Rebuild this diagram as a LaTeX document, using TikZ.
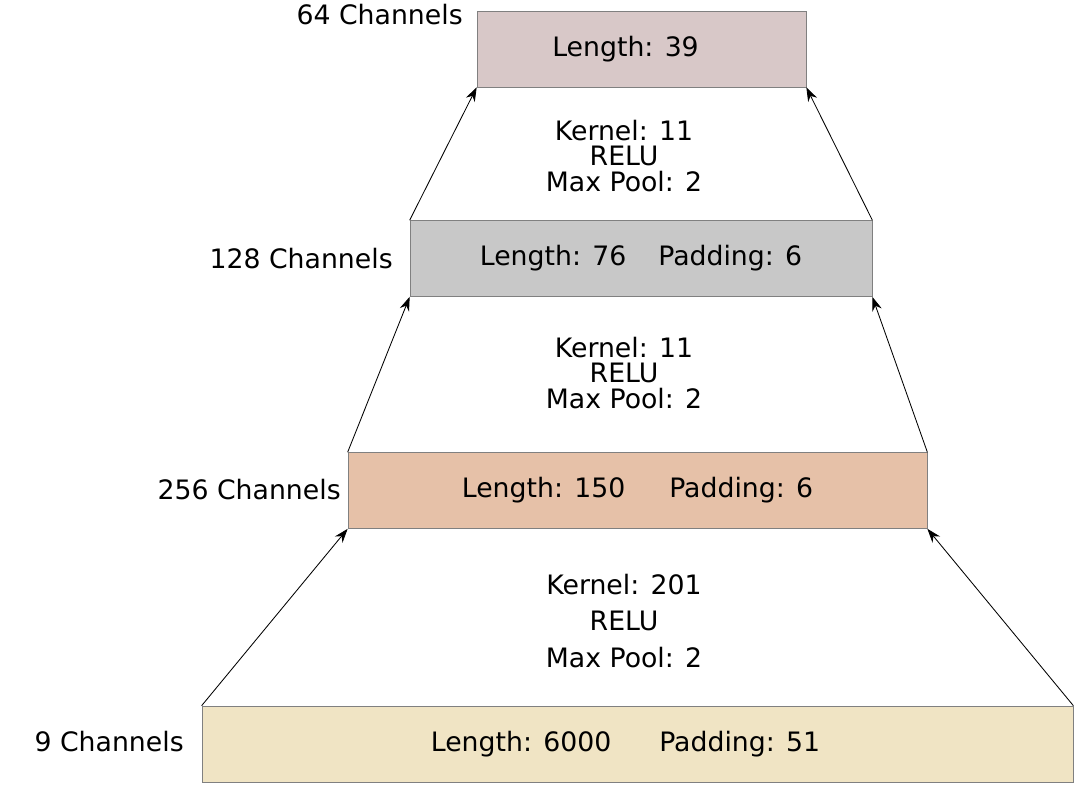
\documentclass[tikz,border=0pt]{standalone}
\usepackage{fontspec}
\setmainfont{DejaVu Sans}
\usetikzlibrary{arrows.meta, positioning}
\definecolor{cTop}{HTML}{D8C8C8}
\definecolor{cSecond}{HTML}{C8C8C8}
\definecolor{cThird}{HTML}{E6C1A8}
\definecolor{cBottom}{HTML}{F0E4C4}

\begin{document}
\begin{tikzpicture}[x=0.025cm, y=-0.025cm]
\tikzstyle{layer} = [rectangle, draw=gray, line width=0.4pt, minimum height=1.9cm, inner sep=0pt, font=\fontsize{19}{22}\selectfont]
\tikzstyle{chan} = [anchor=east, inner sep=0pt, font=\fontsize{19}{22}\selectfont]
\tikzstyle{op} = [align=center, font=\fontsize{19}{22}\selectfont]
\tikzstyle{up} = [-{Stealth[length=10pt, width=7pt]}, line width=0.6pt]
\useasboundingbox (0,0) rectangle (1075,784);

\node (l4) [layer, fill=cTop, minimum width=8.225cm] at (641.5,49) {\hspace*{-0.8cm}Length: 39};
\node (l3) [layer, fill=cSecond, minimum width=11.55cm] at (641,258.5) {Length: 76\hspace{0.8cm}Padding: 6};
\node (l2) [layer, fill=cThird, minimum width=14.475cm] at (637.5,490.5) {Length: 150\hspace{1.1cm}Padding: 6};
\node (l1) [layer, fill=cBottom, minimum width=21.775cm] at (637.5,744) {\hspace*{-0.6cm}Length: 6000\hspace{1.2cm}Padding: 51};

\node (c4) [chan] at (463,15) {64 Channels};
\node (c3) [chan] at (393,259) {128 Channels};
\node (c2) [chan] at (341,490) {256 Channels};
\node (c1) [chan] at (184,742) {9 Channels};

\node (o3) [op] at (624,156) {Kernel: 11\\[-4pt]RELU\\[-4pt]Max Pool: 2};
\node (o2) [op] at (624,373) {Kernel: 11\\[-4pt]RELU\\[-4pt]Max Pool: 2};
\node (o1) [op] at (624,621) {Kernel: 201\\[4pt]RELU\\[4pt]Max Pool: 2};

\draw [up] (l3.north west) -- (l4.south west);
\draw [up] (l3.north east) -- (l4.south east);
\draw [up] (l2.north west) -- (l3.south west);
\draw [up] (l2.north east) -- (l3.south east);
\draw [up] (l1.north west) -- (l2.south west);
\draw [up] (l1.north east) -- (l2.south east);
\end{tikzpicture}
\end{document}
